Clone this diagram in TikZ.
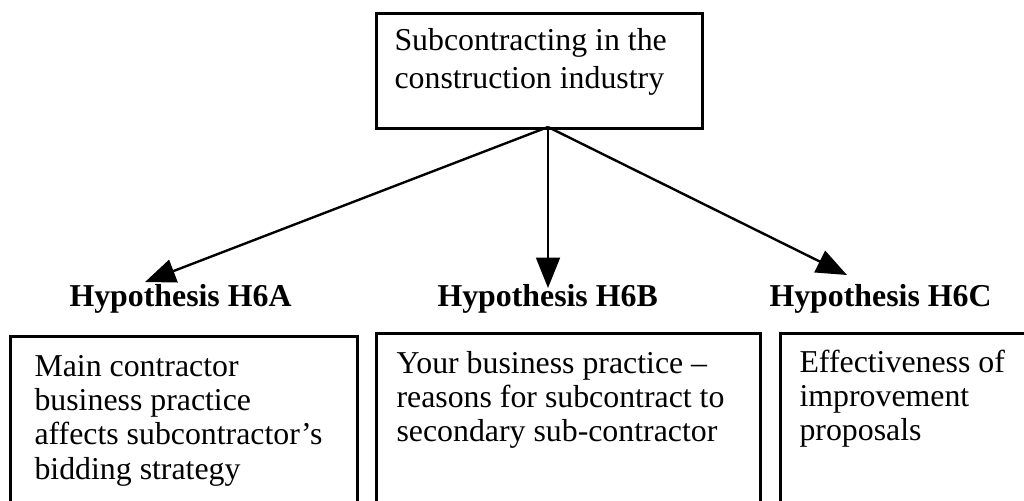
\documentclass[tikz,border=0pt]{standalone}
\usepackage{fontspec}
\setmainfont{Liberation Serif}
\usetikzlibrary{arrows.meta}
\newcommand\pxu{0.377pt}
\tikzset{
  frame/.style={draw, line width=1pt, inner sep=0pt, anchor=north west},
  body/.style={anchor=base west, inner sep=0pt, font=\fontsize{12}{13}\selectfont},
  heading/.style={anchor=base west, inner sep=0pt, font=\fontsize{12}{14}\selectfont\bfseries},
  link/.style={line width=0.9pt, -{Triangle[length=11.5pt,width=9pt]}},
}
\newcommand\lines[1]{\parbox[t]{150pt}{\raggedright #1}}
\begin{document}
\begin{tikzpicture}[x=\pxu, y=-\pxu]
  \clip (0,0) rectangle (1024,500);

  % root box
  \node[frame, minimum width=326*\pxu, minimum height=115*\pxu] (root) at (375,12) {};
  \node[body, font=\fontsize{12}{14.5}\selectfont] (rootText) at (394,50)
    {\lines{Subcontracting in the\\construction industry}};

  % hypothesis boxes (running past the lower edge)
  \node[frame, minimum width=347*\pxu, minimum height=190*\pxu] (boxA) at (9,335) {};
  \node[frame, minimum width=384*\pxu, minimum height=190*\pxu] (boxB) at (375,332) {};
  \node[frame, minimum width=280*\pxu, minimum height=190*\pxu] (boxC) at (779,332) {};

  % headings
  \node[heading] (hA) at (69,306) {Hypothesis H6A};
  \node[heading] (hB) at (437,306) {Hypothesis H6B};
  \node[heading] (hC) at (769,306) {Hypothesis H6C};

  % box texts
  \node[body] (tA) at (34,376)
    {\lines{Main contractor\\business practice\\affects subcontractor’s\\bidding strategy}};
  \node[body] (tB) at (396,373)
    {\lines{Your business practice --\\reasons for subcontract to\\secondary sub-contractor}};
  \node[body] (tC) at (799,372)
    {\lines{Effectiveness of\\improvement\\proposals}};

  % connectors
  \coordinate (fork) at (548,127);
  \coordinate (tipA) at (145,282);
  \coordinate (tipB) at (548,288);
  \coordinate (tipC) at (847,275);
  \draw[link] (fork) -- (tipA);
  \draw[link] (fork) -- (tipB);
  \draw[link] (fork) -- (tipC);
\end{tikzpicture}
\end{document}
